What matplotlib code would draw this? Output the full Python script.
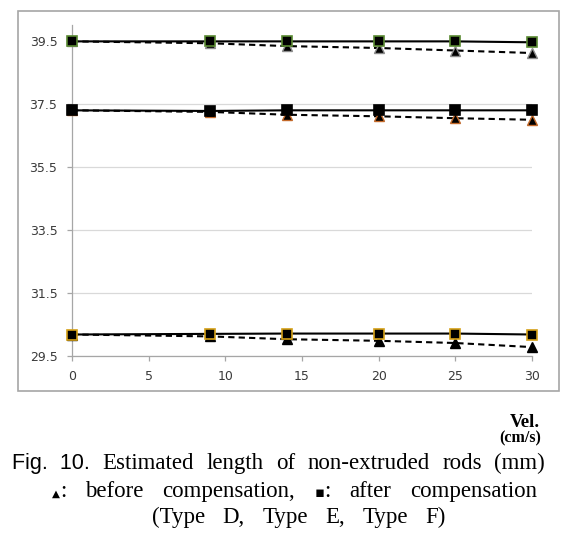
import matplotlib.pyplot as plt
from matplotlib.patches import Rectangle

W, H = 579, 541

vel = [0, 9, 14, 20, 25, 30]

# Type D (top), Type E (middle), Type F (bottom)
d_before = [39.48, 39.42, 39.33, 39.27, 39.19, 39.11]
d_after = [39.48, 39.48, 39.48, 39.48, 39.48, 39.45]
e_before = [37.29, 37.24, 37.15, 37.10, 37.04, 36.99]
e_after = [37.29, 37.27, 37.29, 37.29, 37.29, 37.29]
f_before = [30.17, 30.11, 30.02, 29.97, 29.90, 29.77]
f_after = [30.17, 30.19, 30.20, 30.20, 30.20, 30.17]

y_ticks = [29.5, 31.5, 33.5, 35.5, 37.5, 39.5]
x_ticks = [0, 5, 10, 15, 20, 25, 30]

series = [
    (d_before, d_after, "#8c8c8c", "#5a8a32"),
    (e_before, e_after, "#c46a2a", "black"),
    (f_before, f_after, "black", "#d4a017"),
]


def fx(px):
    return px / W


def fy(py):
    return 1 - py / H


fig = plt.figure(figsize=(W / 100, H / 100), dpi=100)
ax = fig.add_axes([fx(72), fy(355.6), fx(532) - fx(72), fy(25) - fy(355.6)])

for before, after, tri_edge, sq_edge in series:
    ax.plot(vel, before, color="black", lw=1.5, ls=(0, (3, 2)),
            marker="^", ms=6.5, mfc="black", mec=tri_edge, mew=1.0,
            clip_on=False, zorder=3)
    ax.plot(vel, after, color="black", lw=1.5, ls="-",
            marker="s", ms=6.5, mfc="black", mec=sq_edge, mew=1.2,
            clip_on=False, zorder=4)

ax.set_xlim(0, 30)
ax.set_ylim(29.5, 40.0)
ax.set_xticks(x_ticks)
ax.set_yticks(y_ticks)
ax.set_yticklabels([f"{v:.1f}" for v in y_ticks])
ax.grid(axis="y", color="#d9d9d9", lw=0.9)
ax.set_axisbelow(True)
for side in ["top", "right"]:
    ax.spines[side].set_visible(False)
for side in ["left", "bottom"]:
    ax.spines[side].set_color("#a6a6a6")
    ax.spines[side].set_linewidth(0.9)
ax.tick_params(axis="both", direction="out", length=3.5, width=0.9,
               color="#a6a6a6", labelsize=9, labelcolor="#3a3a3a")
ax.tick_params(axis="y", pad=7)
ax.tick_params(axis="x", pad=7)

fig.patches.append(Rectangle((fx(17.7), fy(390.7)), fx(559) - fx(17.7),
                             fy(10.7) - fy(390.7), transform=fig.transFigure,
                             fill=False, ec="#a6a6a6", lw=1.2))

# axis unit label under the frame
fig.text(fx(540), fy(426.7), "Vel.", ha="right", va="baseline",
         family="Liberation Serif", weight="bold", fontsize=13.5)
fig.text(fx(541), fy(442.7), "(cm/s)", ha="right", va="baseline",
         family="Liberation Serif", weight="bold", fontsize=11.5)

renderer = fig.canvas.get_renderer()
serif = dict(family="Liberation Serif", fontsize=16.5)
sans = dict(family="Liberation Sans", fontsize=15.5)
tri = dict(family="DejaVu Sans", fontsize=7.5)
sq = dict(family="DejaVu Sans", fontsize=10.5)


def word_width(word):
    total = 0
    for s, kw in word:
        t = fig.text(0, 0, s, **kw)
        total += t.get_window_extent(renderer).width
        t.remove()
    return total


def justify(words, left_px, right_px, y_px):
    # spread the words evenly between left and right, like the typeset caption
    widths = [word_width(w) for w in words]
    gap = (right_px - left_px - sum(widths)) / (len(words) - 1)
    x = left_px
    for word, wd in zip(words, widths):
        xx = x
        for s, kw in word:
            t = fig.text(fx(xx), fy(y_px), s, ha="left", va="baseline", **kw)
            xx += t.get_window_extent(renderer).width
        x += wd + gap


line1 = [[("Fig.  10.", sans)]] + \
    [[(w, serif)] for w in "Estimated length of non-extruded rods (mm)".split()]
line2 = [[("\u25b2", tri), (":", serif)], [("before", serif)],
         [("compensation,", serif)], [("\u25aa", sq), (":", serif)],
         [("after", serif)], [("compensation", serif)]]
line3 = [[(w, serif)] for w in "(Type D, Type E, Type F)".split()]

justify(line1, 12, 545, 469)
justify(line2, 52, 537, 496.7)
justify(line3, 152, 446, 523)

fig.savefig("out.png", dpi=100)
